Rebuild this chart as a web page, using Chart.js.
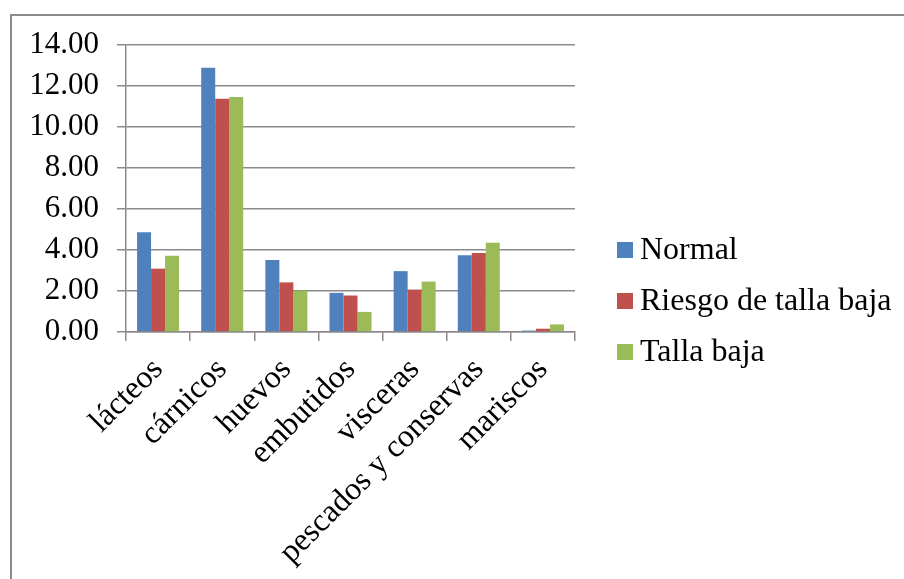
<!DOCTYPE html>
<html>
<head>
<meta charset="utf-8">
<script src="https://cdn.jsdelivr.net/npm/chart.js@4/dist/chart.umd.min.js"></script>
<style>
  html, body { margin: 0; padding: 0; background: #ffffff; }
  #wrap { position: relative; width: 904px; height: 579px; }
</style>
</head>
<body>
<div id="wrap"><canvas id="c" width="904" height="579"></canvas></div>
<script>
// Food groups on the category axis
const categories = ['lácteos', 'cárnicos', 'huevos', 'embutidos', 'visceras', 'pescados y conservas', 'mariscos'];

// Series values per nutritional status
const normalValues = [4.86, 12.89, 3.51, 1.91, 2.97, 3.75, 0.07];
const riesgoValues = [3.09, 11.38, 2.42, 1.78, 2.07, 3.85, 0.16];
const tallaBajaValues = [3.72, 11.46, 2.01, 0.98, 2.46, 4.35, 0.37];

const seriesNames = ['Normal', 'Riesgo de talla baja', 'Talla baja'];
const seriesColors = ['#4F81BD', '#C0504D', '#9BBB59'];

// Value axis range and step
const yMin = 0;
const yMax = 14;
const yStep = 2;

const FONT_FAMILY = '"Liberation Serif", "Times New Roman", serif';
const GRID_COLOR = '#8a8a8a';

// Frame along the left and top edges of the chart object
const framePlugin = {
  id: 'frame',
  beforeDraw(chart) {
    const ctx = chart.ctx;
    ctx.save();
    ctx.strokeStyle = '#8c8c8c';
    ctx.lineWidth = 2;
    ctx.beginPath();
    ctx.moveTo(11, chart.height + 2);
    ctx.lineTo(11, 15);
    ctx.lineTo(chart.width + 2, 15);
    ctx.stroke();
    ctx.restore();
  }
};

// Legend at the right, built from the dataset labels and colours
const sideLegendPlugin = {
  id: 'sideLegend',
  afterDraw(chart) {
    const ctx = chart.ctx;
    const x = 617, box = 16, firstY = 250, gap = 51;
    ctx.save();
    ctx.font = '32px ' + FONT_FAMILY;
    ctx.textBaseline = 'middle';
    ctx.textAlign = 'left';
    chart.data.datasets.forEach((ds, i) => {
      const cy = firstY + i * gap;
      ctx.fillStyle = ds.backgroundColor;
      ctx.fillRect(x, cy - box / 2, box, box);
      ctx.fillStyle = '#000000';
      ctx.fillText(ds.label, x + box + 7, cy + 1);
    });
    ctx.restore();
  }
};

const seriesData = [normalValues, riesgoValues, tallaBajaValues];

new Chart(document.getElementById('c'), {
  type: 'bar',
  data: {
    labels: categories,
    datasets: seriesData.map((vals, i) => ({
      label: seriesNames[i],
      data: vals,
      backgroundColor: seriesColors[i],
      borderWidth: 0,
      barPercentage: 1.0,
      categoryPercentage: 0.655
    }))
  },
  options: {
    responsive: false,
    animation: false,
    devicePixelRatio: 1,
    layout: { padding: { left: 0, right: 329, top: 45, bottom: 0 } },
    plugins: {
      legend: { display: false },
      tooltip: { enabled: false }
    },
    scales: {
      x: {
        grid: {
          display: true,
          offset: true,
          drawOnChartArea: false,
          drawTicks: true,
          tickLength: 9,
          color: GRID_COLOR,
          lineWidth: 1.5
        },
        border: { display: true, color: GRID_COLOR, width: 1.5 },
        ticks: {
          minRotation: 45,
          maxRotation: 45,
          autoSkip: false,
          padding: 10,
          color: '#000000',
          font: { family: FONT_FAMILY, size: 32 }
        },
        afterFit(scale) { scale.height = 247; }
      },
      y: {
        min: yMin,
        max: yMax,
        grid: {
          color: GRID_COLOR,
          lineWidth: 1.5,
          drawTicks: true,
          tickLength: 9
        },
        border: { display: true, color: GRID_COLOR, width: 1.5 },
        ticks: {
          stepSize: yStep,
          padding: 18,
          color: '#000000',
          font: { family: FONT_FAMILY, size: 31 },
          callback: (v) => Number(v).toFixed(2)
        },
        afterFit(scale) { scale.width = 126; }
      }
    }
  },
  plugins: [framePlugin, sideLegendPlugin]
});
</script>
</body>
</html>
